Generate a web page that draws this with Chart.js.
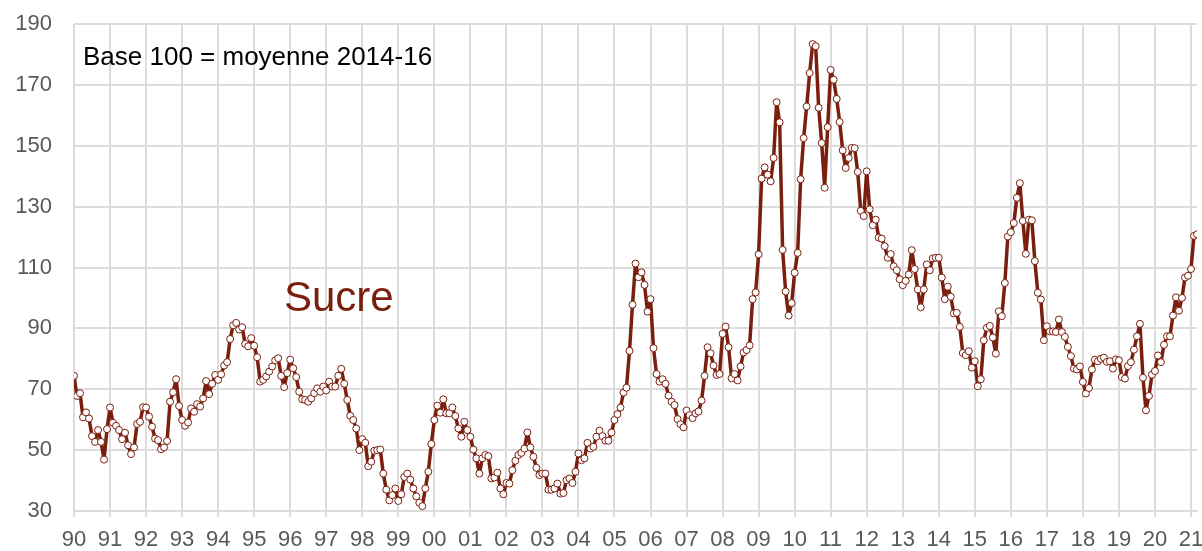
<!DOCTYPE html>
<html>
<head>
<meta charset="utf-8">
<title>Sucre</title>
<script src="https://cdn.jsdelivr.net/npm/chart.js@4.4.1/dist/chart.umd.min.js"></script>
<style>
  html, body { margin: 0; padding: 0; background: #fff; overflow: hidden; }
  #wrap { width: 1202px; height: 551px; }
</style>
</head>
<body>
<div id="wrap"><canvas id="sugarChart"></canvas></div>
<script>
// Indice mensuel du prix du sucre, base 100 = moyenne 2014-16 (janv. 1990 -> mars 2021)
const firstYear = 1990;
const yearLabels = ["90","91","92","93","94","95","96","97","98","99","00","01","02","03","04","05",
  "06","07","08","09","10","11","12","13","14","15","16","17","18","19","20","21"];
const seriesName = "Sucre";
const baseNote = "Base 100 = moyenne 2014-16";

const sugar1990s = [
  74.4, 67.8, 68.7, 60.8, 62.4, 60.4, 54.6, 52.7, 56.6, 52.7, 46.9, 56.9,
  64.0, 59.0, 58.0, 56.6, 53.6, 55.7, 51.6, 48.7, 50.9, 58.6, 59.3, 64.1,
  64.0, 61.0, 57.7, 53.8, 53.3, 50.3, 50.9, 53.0, 65.9, 69.0, 73.3, 64.5,
  59.9, 58.0, 59.1, 63.7, 62.6, 65.1, 64.3, 67.0, 72.7, 68.4, 71.8, 74.7,
  73.1, 74.9, 77.8, 78.9, 86.5, 91.0, 91.8, 89.6, 90.4, 84.9, 84.1, 86.8,
  84.3, 80.5, 72.5, 73.1, 74.2, 75.8, 77.5, 79.5, 80.2, 74.4, 70.7, 75.3,
  79.7, 76.9, 74.0, 69.2, 66.7, 66.5, 65.9, 67.0, 68.7, 70.3, 69.2, 70.9,
  69.6, 72.5, 70.9, 70.9, 74.4, 76.7, 71.8, 66.5, 61.3, 59.9, 57.1, 50.0,
  53.6, 52.4, 44.7, 46.2, 49.8, 50.0, 50.2, 42.3, 37.0, 33.5, 35.2, 37.4,
  33.3, 35.5, 41.2, 42.3, 40.3, 37.4, 34.8, 32.7, 31.6, 37.4, 42.9, 52.0
];
const sugar2000s = [
  59.9, 64.6, 62.3, 66.7, 62.1, 62.1, 64.0, 61.2, 57.1, 54.4, 59.3, 56.6,
  54.4, 50.2, 47.3, 42.3, 47.3, 48.4, 48.0, 40.7, 41.0, 42.6, 37.4, 35.5,
  39.2, 39.0, 43.4, 46.5, 48.4, 49.1, 50.5, 55.8, 50.9, 47.8, 44.2, 41.8,
  42.3, 42.3, 37.0, 37.0, 37.4, 39.0, 35.7, 35.9, 40.1, 40.7, 39.2, 42.9,
  48.9, 46.7, 47.3, 52.4, 50.5, 51.1, 54.4, 56.4, 54.6, 53.1, 53.1, 55.8,
  59.9, 61.8, 64.0, 68.9, 70.5, 82.6, 97.8, 111.3, 106.8, 108.4, 104.3, 95.5,
  99.6, 83.5, 75.0, 72.5, 73.3, 71.8, 67.9, 65.9, 64.8, 60.2, 58.5, 57.5,
  63.0, 61.5, 60.5, 62.1, 62.7, 66.3, 74.4, 83.8, 81.8, 77.8, 74.7, 75.0,
  88.2, 90.6, 83.8, 73.6, 75.0, 72.9, 77.5, 82.1, 82.9, 84.4, 99.6, 101.8,
  114.3, 139.2, 142.9, 140.5, 138.3, 146.0, 164.3, 157.7, 115.8, 102.1, 94.2, 98.3
];
const sugar2010s = [
  108.3, 114.8, 139.0, 152.5, 162.9, 173.9, 183.4, 182.7, 162.5, 150.9, 136.2, 156.1,
  174.9, 171.7, 165.4, 157.8, 148.5, 142.7, 146.0, 149.3, 149.2, 141.4, 128.6, 126.9,
  141.6, 129.1, 123.9, 125.7, 119.8, 119.5, 117.0, 113.2, 114.4, 110.4, 109.1, 106.1,
  104.2, 105.6, 107.7, 115.7, 109.5, 102.8, 96.9, 102.8, 111.0, 109.1, 113.0, 113.2,
  113.2, 106.7, 99.6, 103.7, 100.4, 94.9, 95.1, 90.5, 81.9, 81.2, 82.5, 77.1,
  79.2, 71.0, 73.3, 86.1, 90.2, 90.8, 87.0, 81.7, 95.6, 94.0, 104.9, 120.2,
  121.6, 124.6, 132.9, 137.7, 125.3, 114.5, 125.7, 125.5, 112.1, 101.7, 99.5, 86.1,
  90.7, 89.0, 89.0, 88.8, 92.9, 88.8, 87.2, 83.9, 80.9, 76.8, 76.5, 77.5,
  72.4, 68.6, 70.4, 76.5, 79.7, 79.2, 80.0, 80.4, 79.0, 79.2, 76.8, 79.8,
  79.5, 74.0, 73.5, 77.6, 78.9, 83.0, 87.4, 91.5, 73.8, 63.1, 67.8, 74.8
];
const sugar2020s = [
  76.0, 81.1, 78.9, 84.6, 87.4, 87.4, 94.2, 100.2, 95.8, 100.0, 106.7, 107.3,
  109.5, 120.4, 120.9
];

const sugarValues = [...sugar1990s, ...sugar2000s, ...sugar2010s, ...sugar2020s];
// position of each month on the time axis, in years
const sugarPoints = sugarValues.map((v, i) => ({ x: firstYear + i / 12, y: v }));
const lastX = firstYear + (sugarValues.length - 1) / 12;

const brown = "#7a1f0e";
const gridGrey = "#dcdcdc";
const tickFont = { family: "'Liberation Sans', Arial, sans-serif", size: 22, lineHeight: 1 };

const notes = {
  id: "notes",
  afterDraw(chart) {
    const ctx = chart.ctx;
    ctx.save();
    ctx.textBaseline = "middle";
    ctx.fillStyle = "#000";
    ctx.font = "26px 'Liberation Sans', Arial, sans-serif";
    ctx.fillText(baseNote, 83, 58);
    ctx.fillStyle = brown;
    ctx.font = "42px 'Liberation Sans', Arial, sans-serif";
    ctx.fillText(seriesName, 284, 299);
    ctx.restore();
  }
};

new Chart(document.getElementById("sugarChart"), {
  type: "line",
  data: {
    datasets: [{
      label: seriesName,
      data: sugarPoints,
      borderColor: brown,
      borderWidth: 3.5,
      borderJoinStyle: "round",
      tension: 0,
      pointRadius: 3.5,
      pointBorderWidth: 1,
      pointBorderColor: brown,
      pointBackgroundColor: "#fff"
    }]
  },
  options: {
    responsive: true,
    maintainAspectRatio: false,
    animation: false,
    layout: { padding: { left: 13, top: 24, right: 4, bottom: 0 } },
    plugins: { legend: { display: false }, tooltip: { enabled: false } },
    scales: {
      x: {
        type: "linear",
        min: firstYear,
        max: lastX,
        afterFit: s => { s.height = 40; s.paddingLeft = 0; s.paddingRight = 0; },
        grid: { color: gridGrey, lineWidth: 2, tickLength: 6 },
        border: { color: gridGrey, width: 2 },
        ticks: {
          stepSize: 1,
          includeBounds: false,
          autoSkip: false,
          maxRotation: 0,
          padding: 12,
          color: "#595959",
          font: tickFont,
          callback: v => yearLabels[Math.round(v) - firstYear]
        }
      },
      y: {
        min: 30,
        max: 190,
        afterFit: s => { s.width = 61; s.paddingTop = 0; s.paddingBottom = 0; },
        grid: { color: gridGrey, lineWidth: 2, drawTicks: false },
        border: { display: false },
        ticks: { stepSize: 20, padding: 22, color: "#595959", font: tickFont }
      }
    }
  },
  plugins: [notes]
});
</script>
</body>
</html>
